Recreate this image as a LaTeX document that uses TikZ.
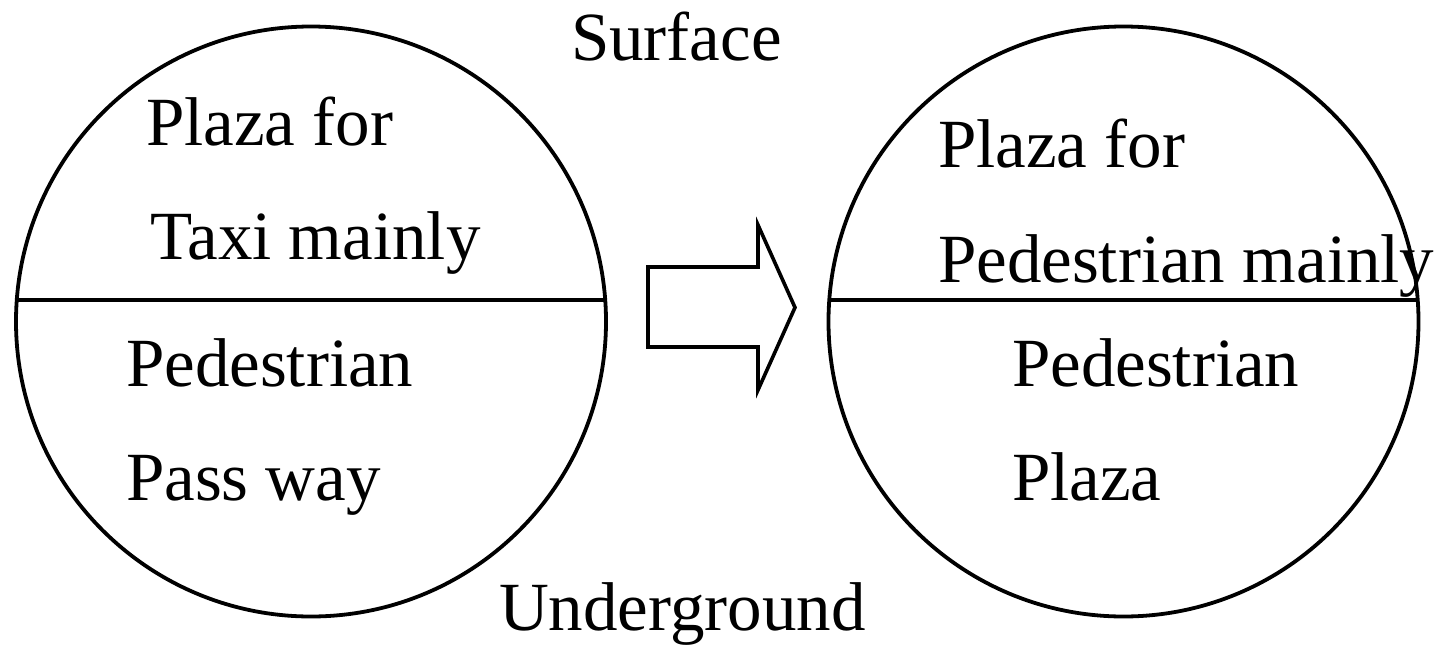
\documentclass[tikz,border=0pt]{standalone}
\usepackage{fontspec}
\setmainfont{Liberation Serif}
\begin{document}
\begin{tikzpicture}[x=1pt,y=-1pt,
  ring/.style={circle,draw,line width=3.8pt,minimum size=590pt,inner sep=0pt,outer sep=0pt},
  lbl/.style={anchor=base west,inner sep=0pt,outer sep=0pt,font=\fontsize{69}{80}\selectfont},
  thick line/.style={line width=3.8pt}]
\useasboundingbox (0,0) rectangle (1452,646);
\node[ring] (L) at (311,321.5) {};
\node[ring] (R) at (1123.5,321.5) {};
\draw[thick line] (L.center) ++(-293.7,-21.5) -- ++(587.4,0);
\draw[thick line] (R.center) ++(-293.7,-21.5) -- ++(587.4,0);
% block arrow
\coordinate (a1) at (648,267);
\coordinate (a2) at (758,267);
\coordinate (a3) at (758,225);
\coordinate (a4) at (795,307.5);
\coordinate (a5) at (758,390);
\coordinate (a6) at (758,347);
\coordinate (a7) at (648,347);
\draw[line width=3.6pt,line join=miter] (a1) -- (a2) -- (a3) -- (a4) -- (a5) -- (a6) -- (a7) -- cycle;
% texts
\node[lbl] (surf) at (571,60) {Surface};
\node[lbl] (und) at (499,630) {Underground};
\node[lbl] (l1) at (146,145) {Plaza for};
\node[lbl] (l2) at (150,259) {Taxi mainly};
\node[lbl] (l3) at (126,386) {Pedestrian};
\node[lbl] (l4) at (126,500) {Pass way};
\node[lbl] (r1) at (938,167) {Plaza for};
\node[lbl] (r2) at (938,282) {Pedestrian mainly};
\node[lbl] (r3) at (1012,386) {Pedestrian};
\node[lbl] (r4) at (1012,500) {Plaza};
\end{tikzpicture}
\end{document}
